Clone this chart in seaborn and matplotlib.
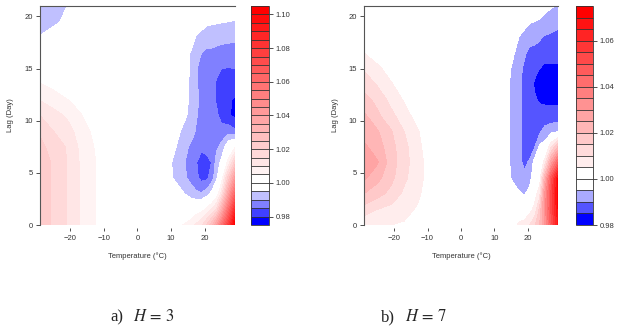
import matplotlib
matplotlib.use("Agg")
import matplotlib.pyplot as plt
import numpy as np
import seaborn as sns

# temperature (columns) and lag (rows) of the gridded relative risk surface
temps = [-29, -25, -21, -17, -13, -9, -5, 0, 5, 10, 13, 16, 17.5, 19, 20.5, 22, 23.5, 25, 27, 29]
lags = [0, 1.5, 3, 4.5, 6, 7.5, 9, 10.5, 12, 13.5, 15, 16.5, 18, 19.5, 21]

# relative risk excess (per mille, RR = 1 + v/1000), panel a (H = 3)
rr_h3 = [
    [22, 19.5, 15, 9.5, 5.5, 2, 0.5, 0, 0.5, 2, 4.5, 8, 11, 14, 20, 28, 40, 55, 78, 104],
    [22, 19.5, 15, 9.5, 5.5, 2, 0.5, 0, 0, 0, 0, 0, 2, 3, 6, 10, 16, 32, 58, 85],
    [22, 19.5, 15, 9.5, 5.5, 2, 0.5, 0, 0, -2, -4, -7, -9, -9.5, -7.5, -3.5, 1, 12, 38, 62],
    [22, 19.5, 15, 9.5, 5.5, 2, 0.5, 0, 0, -4.5, -7.5, -12, -14, -16.5, -16, -13, -6, 2, 22, 42],
    [22, 19.5, 15, 9.5, 5.5, 2, 0.5, 0, 0, -4.8, -8.5, -12.5, -14.8, -17, -16.5, -15, -8, -3.5, 7, 22],
    [21, 18.5, 14.5, 9, 5, 1.5, 0.3, 0, 0, -2.5, -7.5, -11, -12.5, -14, -13.5, -13, -11, -8.5, -1, 4],
    [19.5, 15, 12.5, 7.5, 4, 1, 0, 0, 0, -1, -5.3, -8, -10.5, -11.5, -12, -12.5, -13, -13, -12, -14],
    [15, 12, 9.3, 5.5, 2, 0.3, 0, 0, 0, -0.5, -3, -6.5, -9.7, -11, -12, -13, -14, -17, -19.5, -21],
    [9.7, 7.5, 5.2, 3, 1, 0, 0, 0, 0, 0, -2.5, -6, -9.6, -10.5, -12, -13.5, -15.5, -17.5, -19.5, -20.5],
    [5.2, 3.5, 2, 0.8, 0, 0, 0, 0, 0, 0, -2.5, -6, -9.8, -10.5, -12, -13.5, -15.5, -16.5, -17.5, -17.5],
    [1.5, 0.8, 0.3, 0, 0, 0, 0, 0, 0, 0, -2.5, -5.5, -9.8, -11, -12, -13, -14, -15, -15.2, -15],
    [-2, -1, 0, 0, 0, 0, 0, 0, 0, 0, -2, -5.5, -8.2, -10, -11, -11, -11.5, -11.8, -12, -12],
    [-4.8, -3.5, -2, 0, 0, 0, 0, 0, 0, 0, -1, -3, -5.5, -6.5, -7.5, -7.8, -8, -8.5, -8.8, -9],
    [-6.5, -5.7, -4.3, -1, 0, 0, 0, 0, 0, 0, -0.3, -1, -1.8, -3, -4, -4.3, -4.5, -4.7, -5, -5.2],
    [-7.5, -6.5, -5, -3, -1, 0, 0, 0, 0, 0, 0, 0, -0.3, -1, -1.2, -1.5, -1.8, -2, -2.5, -3],
]

# panel b (H = 7)
rr_h7 = [
    [6, 5.5, 5, 4.5, 3, 1, 0, 0, 0, 0, 1, 4, 6, 7, 10, 14, 20, 30, 48, 65],
    [13, 10, 8.5, 6.5, 4.5, 1.5, 0, 0, 0, 0, 0, 1, 1, 1, 3, 6.5, 16, 32, 52, 70],
    [20, 17, 13.5, 9, 6, 2, 0.3, 0, 0, -0.5, -1, -3, -4.5, -5.5, -3, 2.5, 8, 30, 52, 72],
    [26, 21.5, 16.5, 11, 7, 2.5, 0.3, 0, 0, -0.5, -2.5, -6.5, -8, -9, -7, -1.5, 2, 22, 48, 70],
    [28, 25.5, 17.5, 12, 7, 2.5, 0.3, 0, 0, -0.5, -2.8, -7, -9.3, -10.8, -9.5, -3, -1, 7, 28, 45],
    [26, 22.5, 17, 11.5, 6.5, 1.5, 0.2, 0, 0, -0.5, -3, -7, -9.5, -11, -12, -10.5, -4, -3, 10, 20],
    [23, 20.5, 15.5, 10, 5.5, 1, 0, 0, 0, -0.5, -3, -7, -9.5, -11, -12, -12, -11, -8.5, -7, -6],
    [21, 16, 11.5, 7, 3, 0.5, 0, 0, 0, -0.5, -3, -7, -9.5, -11, -12.5, -13, -13.5, -13, -13, -13],
    [17, 13.5, 8.5, 4.5, 1.5, 0, 0, 0, 0, -0.5, -3, -7, -9.5, -11, -13, -14.5, -15.5, -16, -16, -16],
    [13, 9.5, 5.5, 2.5, 0.5, 0, 0, 0, 0, -0.5, -3, -7, -9.5, -11, -13, -15.5, -16, -16.5, -17, -17.5],
    [9.5, 6, 3, 1, 0, 0, 0, 0, 0, -0.5, -2.5, -6.5, -9, -10.8, -12.5, -14, -15, -16, -16, -16],
    [5, 2.5, 1, 0, 0, 0, 0, 0, 0, 0, -1.5, -5, -7, -9.5, -11, -11, -11.5, -13, -13, -13],
    [2, 0.5, 0, 0, 0, 0, 0, 0, 0, 0, -0.5, -3, -5.3, -6.5, -8.5, -9, -9.5, -10.5, -10.8, -11],
    [0, 0, 0, 0, 0, 0, 0, 0, 0, 0, 0, -1, -2, -3.5, -4.5, -5, -5.5, -6.5, -8, -9],
    [0, 0, 0, 0, 0, 0, 0, 0, 0, 0, 0, 0, -0.3, -1, -1.5, -2, -2.5, -3.5, -4.5, -5.5],
]

xticks = [-20, -10, 0, 10, 20]
yticks = [0, 5, 10, 15, 20]
cb_ticks_a = [0.98, 1.00, 1.02, 1.04, 1.06, 1.08, 1.10]
cb_ticks_b = [0.98, 1.00, 1.02, 1.04, 1.06]

sns.set_style("white")
plt.rcParams["font.family"] = ["Liberation Sans", "DejaVu Sans"]
plt.rcParams["mathtext.fontset"] = "stix"

W, H = 623, 330
fig = plt.figure(figsize=(W / 100, H / 100), dpi=100)


def box(x0, x1, y0, y1):
    return [x0 / W, 1 - y1 / H, (x1 - x0) / W, (y1 - y0) / H]


def panel(rect, crect, grid, levels, n_blue, n_red, cticks):
    ax = fig.add_axes(rect)
    cax = fig.add_axes(crect)
    rr = 1 + np.array(grid) / 1000.0
    cols = sns.blend_palette(["#0000ff", "#ffffff"], n_blue) + \
        sns.blend_palette(["#ffffff", "#ff0000"], n_red)
    cs = ax.contourf(temps, lags, rr, levels=levels, colors=cols, antialiased=False)
    ax.set_xlim(-29, 29)
    ax.set_ylim(0, 21)
    for s in ["right", "bottom"]:
        ax.spines[s].set_visible(False)
    for s in ["top", "left"]:
        ax.spines[s].set_color("#555555")
        ax.spines[s].set_linewidth(0.8)
    ax.spines["bottom"].set_position(("outward", 2))
    ax.set_xticks(xticks)
    ax.set_yticks(yticks)
    ax.tick_params(axis="x", length=2.5, width=0.6, pad=3, labelsize=5.5,
                   colors="#333333", direction="out", bottom=True)
    ax.tick_params(axis="y", length=3, width=0.6, pad=2, labelsize=5.5,
                   colors="#333333", direction="out", left=True)
    ax.set_xlabel("Temperature (°C)", fontsize=5.5, color="#333333")
    ax.set_ylabel("Lag (Day)", fontsize=5.5, color="#333333")
    ax.xaxis.set_label_coords(0.5, -31 / 219)
    ax.xaxis.label.set_va("center")
    ax.yaxis.set_label_coords(-29 / 195, 0.5)
    ax.yaxis.label.set_va("center")

    cb = fig.colorbar(cs, cax=cax, drawedges=True, ticks=cticks, format="%.2f")
    cb.dividers.set_color("#333333")
    cb.dividers.set_linewidth(0.6)
    cb.outline.set_edgecolor("#333333")
    cb.outline.set_linewidth(0.6)
    cax.tick_params(length=3, width=0.6, pad=2, labelsize=5.5, colors="#333333")
    return ax


panel(box(40, 235, 6, 225), box(251, 269, 6, 225), rr_h3,
      np.linspace(0.975, 1.105, 27), 5, 21, cb_ticks_a)
panel(box(364, 558, 6, 225), box(576, 593, 6, 225), rr_h7,
      np.linspace(0.98, 1.075, 20), 4, 15, cb_ticks_b)

cap = dict(fontsize=12, va="center", family=["Liberation Serif", "DejaVu Serif"])
fig.text(110 / W, 1 - 317 / H, "a)", **cap)
fig.text(133 / W, 1 - 317 / H, "$H\\,=\\,3$", **cap)
fig.text(381 / W, 1 - 317 / H, "b)", **cap)
fig.text(405 / W, 1 - 317 / H, "$H\\,=\\,7$", **cap)

fig.savefig("out.png", dpi=100)
